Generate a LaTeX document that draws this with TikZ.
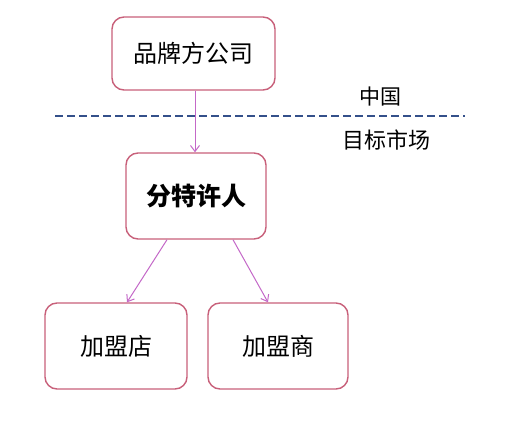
\documentclass[tikz,border=0pt]{standalone}
\usepackage{fontspec}
\setmainfont{Noto Sans CJK SC}
\usetikzlibrary{arrows.meta}
\definecolor{boxc}{HTML}{C8607A}
\definecolor{arrc}{HTML}{C468C8}
\definecolor{dashc}{HTML}{34508A}
\begin{document}
\begin{tikzpicture}[x=1pt,y=1pt,
  box/.style={draw=boxc,line width=1.4pt,rounded corners=12pt,fill=white,inner sep=0pt,font=\fontsize{24}{26}\selectfont},
  arr/.style={draw=arrc,line width=1pt,-{Straight Barb[length=6pt,width=9pt]}}]
\useasboundingbox (0,0) rectangle (514,431);
\fill[white] (0,0) rectangle (514,431);
\node[box,minimum width=163pt,minimum height=73pt] (brand) at (193.5,377.5) {品牌方公司};
\node[box,minimum width=140pt,minimum height=86pt,font=\fontsize{25}{27}\selectfont\bfseries] (master) at (196,235) {分特许人};
\node[box,minimum width=142pt,minimum height=86pt] (store) at (116,85) {加盟店};
\node[box,minimum width=140pt,minimum height=86pt] (dealer) at (278,85) {加盟商};
\coordinate (dl) at (55,315);
\coordinate (dr) at (465,315);
\draw[dashc,line width=2.2pt,dash pattern=on 8pt off 4pt] (dl) -- (dr);
\node[font=\fontsize{21}{23}\selectfont] (cn) at (380,334) {中国};
\node[font=\fontsize{22}{24}\selectfont] (tm) at (386,291) {目标市场};
\draw[arr] (brand.south -| 195,0) -- (master.north -| 195,0);
\draw[arr] (master.south -| 167,0) -- (store.north -| 127,0);
\draw[arr] (master.south -| 233,0) -- (dealer.north -| 268,0);
\end{tikzpicture}
\end{document}
